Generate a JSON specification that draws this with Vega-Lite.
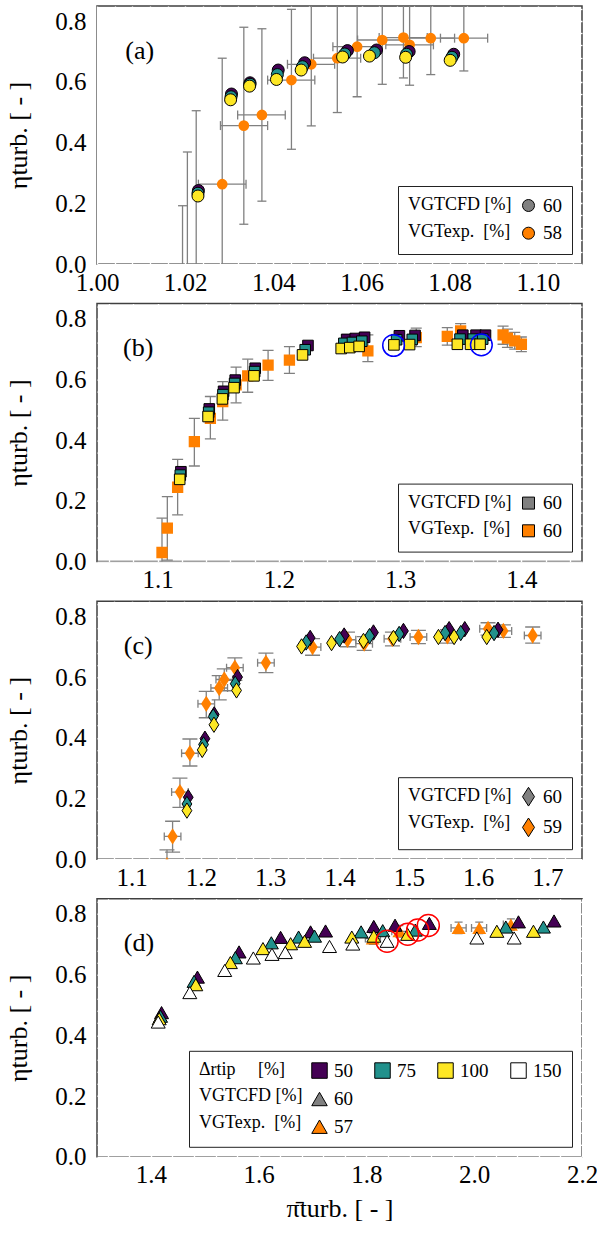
{
"$schema": "https://vega.github.io/schema/vega-lite/v6.json",
"background": "white",
"padding": {"left": 5, "right": 5, "top": 4, "bottom": 5},
"spacing": 39.6,
"bounds": "flush",
"resolve": {"scale": {"shape": "independent", "color": "independent", "fill": "independent", "stroke": "independent"}, "legend": {"shape": "independent", "color": "independent", "fill": "independent", "stroke": "independent"}},
"config": {
  "font": "Liberation Serif",
  "style": {"guide-label": {"font": "Liberation Serif"}, "guide-title": {"font": "Liberation Serif"}},
  "view": {"fill": "#d9d9d9", "stroke": "#404040", "strokeWidth": 1.5},
  "axis": {"labelFont": "Liberation Serif", "labelFontSize": 25, "labelColor": "black", "titleFont": "Liberation Serif", "titleFontSize": 26, "titleFontWeight": "normal", "titleColor": "black", "gridColor": "white", "gridWidth": 1.4, "gridOpacity": 1, "domain": false, "ticks": false, "labelFlush": false, "labelOverlap": false},
  "legend": {"orient": "bottom-right", "offset": 10, "fillColor": "white", "strokeColor": "#222222", "padding": 10, "labelFont": "Liberation Serif", "labelFontSize": 19, "labelColor": "black", "titleFont": "Liberation Serif", "titleFontSize": 18, "titleFontWeight": "normal", "titleColor": "black", "titleOrient": "left", "titleAnchor": "start", "titleLineHeight": 26.7, "titleBaseline": "top", "titlePadding": 7, "symbolSize": 144, "symbolOpacity": 1, "rowPadding": 7.7, "labelOffset": 5, "columnPadding": 19, "symbolStrokeColor": "black", "symbolStrokeWidth": 1}
},
"datasets": {
  "a_cfd": [
    {"x":1.0230,"y":0.242,"clr":"50"},{"x":1.0305,"y":0.560,"clr":"50"},{"x":1.0347,"y":0.597,"clr":"50"},{"x":1.0411,"y":0.639,"clr":"50"},{"x":1.0471,"y":0.663,"clr":"50"},{"x":1.0568,"y":0.703,"clr":"50"},{"x":1.0634,"y":0.705,"clr":"50"},{"x":1.0708,"y":0.700,"clr":"50"},{"x":1.0809,"y":0.691,"clr":"50"},
    {"x":1.0229,"y":0.233,"clr":"75"},{"x":1.0304,"y":0.551,"clr":"75"},{"x":1.0347,"y":0.592,"clr":"75"},{"x":1.0409,"y":0.624,"clr":"75"},{"x":1.0466,"y":0.650,"clr":"75"},{"x":1.0562,"y":0.692,"clr":"75"},{"x":1.0629,"y":0.696,"clr":"75"},{"x":1.0702,"y":0.691,"clr":"75"},{"x":1.0805,"y":0.681,"clr":"75"},
    {"x":1.0229,"y":0.224,"clr":"100"},{"x":1.0303,"y":0.541,"clr":"100"},{"x":1.0346,"y":0.586,"clr":"100"},{"x":1.0407,"y":0.608,"clr":"100"},{"x":1.0463,"y":0.639,"clr":"100"},{"x":1.0557,"y":0.682,"clr":"100"},{"x":1.0618,"y":0.685,"clr":"100"},{"x":1.0700,"y":0.681,"clr":"100"},{"x":1.0801,"y":0.671,"clr":"100"}
  ],
  "a_exp": [
    {"x":1.0194,"y":-0.30,"ylo":-0.79,"yhi":0.192},
    {"x":1.0205,"y":-0.15,"ylo":-0.67,"yhi":0.369},
    {"x":1.0225,"y":-0.04,"ylo":-0.58,"yhi":0.505},
    {"x":1.0284,"y":0.263,"xlo":1.0230,"xhi":1.0338,"ylo":-0.152,"yhi":0.678},
    {"x":1.0333,"y":0.456,"xlo":1.0280,"xhi":1.0387,"ylo":0.131,"yhi":0.780},
    {"x":1.0374,"y":0.491,"xlo":1.0319,"xhi":1.0427,"ylo":0.207,"yhi":0.775},
    {"x":1.0441,"y":0.606,"xlo":1.0387,"xhi":1.0494,"ylo":0.378,"yhi":0.839},
    {"x":1.0486,"y":0.658,"xlo":1.0432,"xhi":1.0539,"ylo":0.455,"yhi":0.861},
    {"x":1.0545,"y":0.678,"xlo":1.0491,"xhi":1.0598,"ylo":0.499,"yhi":0.857},
    {"x":1.0590,"y":0.716,"xlo":1.0535,"xhi":1.0643,"ylo":0.551,"yhi":0.881},
    {"x":1.0647,"y":0.738,"xlo":1.0591,"xhi":1.0700,"ylo":0.592,"yhi":0.884},
    {"x":1.0695,"y":0.746,"xlo":1.0640,"xhi":1.0749,"ylo":0.613,"yhi":0.879},
    {"x":1.0709,"y":0.722,"xlo":1.0655,"xhi":1.0763,"ylo":0.589,"yhi":0.855},
    {"x":1.0757,"y":0.744,"xlo":1.0702,"xhi":1.0811,"ylo":0.624,"yhi":0.864},
    {"x":1.0832,"y":0.744,"xlo":1.0779,"xhi":1.0886,"ylo":0.636,"yhi":0.860}
  ],
  "b_cfd": [
    {"x":1.1192,"y":0.296,"clr":"50"},{"x":1.1426,"y":0.503,"clr":"50"},{"x":1.1544,"y":0.561,"clr":"50"},{"x":1.1640,"y":0.598,"clr":"50"},{"x":1.1805,"y":0.637,"clr":"50"},{"x":1.2240,"y":0.712,"clr":"50"},{"x":1.2559,"y":0.732,"clr":"50"},{"x":1.2630,"y":0.735,"clr":"50"},{"x":1.2707,"y":0.739,"clr":"50"},{"x":1.2994,"y":0.744,"clr":"50"},{"x":1.3123,"y":0.745,"clr":"50"},{"x":1.3517,"y":0.746,"clr":"50"},{"x":1.3626,"y":0.746,"clr":"50"},{"x":1.3704,"y":0.746,"clr":"50"},
    {"x":1.1187,"y":0.285,"clr":"75"},{"x":1.1421,"y":0.492,"clr":"75"},{"x":1.1539,"y":0.550,"clr":"75"},{"x":1.1635,"y":0.587,"clr":"75"},{"x":1.1800,"y":0.626,"clr":"75"},{"x":1.2217,"y":0.698,"clr":"75"},{"x":1.2536,"y":0.719,"clr":"75"},{"x":1.2607,"y":0.722,"clr":"75"},{"x":1.2684,"y":0.726,"clr":"75"},{"x":1.2971,"y":0.731,"clr":"75"},{"x":1.3100,"y":0.732,"clr":"75"},{"x":1.3494,"y":0.733,"clr":"75"},{"x":1.3603,"y":0.733,"clr":"75"},{"x":1.3681,"y":0.733,"clr":"75"},
    {"x":1.1182,"y":0.271,"clr":"100"},{"x":1.1416,"y":0.478,"clr":"100"},{"x":1.1534,"y":0.536,"clr":"100"},{"x":1.1630,"y":0.573,"clr":"100"},{"x":1.1795,"y":0.612,"clr":"100"},{"x":1.2195,"y":0.681,"clr":"100"},{"x":1.2514,"y":0.702,"clr":"100"},{"x":1.2585,"y":0.705,"clr":"100"},{"x":1.2662,"y":0.709,"clr":"100"},{"x":1.2949,"y":0.714,"clr":"100"},{"x":1.3078,"y":0.715,"clr":"100"},{"x":1.3472,"y":0.716,"clr":"100"},{"x":1.3581,"y":0.716,"clr":"100"},{"x":1.3659,"y":0.716,"clr":"100"}
  ],
  "b_exp": [
    {"x":1.1036,"y":0.030,"ylo":-0.08,"yhi":0.143},
    {"x":1.1080,"y":0.110,"ylo":0.005,"yhi":0.214},
    {"x":1.1165,"y":0.245,"ylo":0.154,"yhi":0.337},
    {"x":1.1303,"y":0.395,"ylo":0.315,"yhi":0.472},
    {"x":1.1435,"y":0.472,"ylo":0.404,"yhi":0.544},
    {"x":1.1537,"y":0.527,"ylo":0.466,"yhi":0.593},
    {"x":1.1647,"y":0.582,"ylo":0.523,"yhi":0.641},
    {"x":1.1743,"y":0.612,"ylo":0.558,"yhi":0.667},
    {"x":1.1911,"y":0.647,"ylo":0.597,"yhi":0.696},
    {"x":1.2087,"y":0.664,"ylo":0.620,"yhi":0.708},
    {"x":1.2734,"y":0.694,"ylo":0.659,"yhi":0.747},
    {"x":1.3133,"y":0.738,"ylo":0.708,"yhi":0.769},
    {"x":1.3389,"y":0.742,"ylo":0.713,"yhi":0.771},
    {"x":1.3499,"y":0.760,"ylo":0.735,"yhi":0.784},
    {"x":1.3849,"y":0.747,"ylo":0.716,"yhi":0.776},
    {"x":1.3885,"y":0.736,"ylo":0.706,"yhi":0.766},
    {"x":1.3945,"y":0.727,"ylo":0.700,"yhi":0.755},
    {"x":1.4000,"y":0.716,"ylo":0.692,"yhi":0.740}
  ],
  "b_hl": [{"x":1.2946,"y":0.712},{"x":1.3670,"y":0.714}],
  "c_cfd": [
    {"x":1.1817,"y":0.204,"clr":"50"},{"x":1.2058,"y":0.397,"clr":"50"},{"x":1.2192,"y":0.477,"clr":"50"},{"x":1.2529,"y":0.600,"clr":"50"},{"x":1.3577,"y":0.729,"clr":"50"},{"x":1.4067,"y":0.737,"clr":"50"},{"x":1.4490,"y":0.747,"clr":"50"},{"x":1.4923,"y":0.752,"clr":"50"},{"x":1.5582,"y":0.758,"clr":"50"},{"x":1.5808,"y":0.758,"clr":"50"},{"x":1.6288,"y":0.756,"clr":"50"},
    {"x":1.1798,"y":0.182,"clr":"75"},{"x":1.2038,"y":0.378,"clr":"75"},{"x":1.2178,"y":0.470,"clr":"75"},{"x":1.2495,"y":0.578,"clr":"75"},{"x":1.3519,"y":0.714,"clr":"75"},{"x":1.4000,"y":0.725,"clr":"75"},{"x":1.4433,"y":0.735,"clr":"75"},{"x":1.4861,"y":0.742,"clr":"75"},{"x":1.5524,"y":0.745,"clr":"75"},{"x":1.5750,"y":0.745,"clr":"75"},{"x":1.6231,"y":0.745,"clr":"75"},
    {"x":1.1798,"y":0.160,"clr":"100"},{"x":1.2019,"y":0.360,"clr":"100"},{"x":1.2188,"y":0.443,"clr":"100"},{"x":1.2514,"y":0.556,"clr":"100"},{"x":1.3452,"y":0.701,"clr":"100"},{"x":1.3885,"y":0.712,"clr":"100"},{"x":1.4346,"y":0.719,"clr":"100"},{"x":1.4779,"y":0.729,"clr":"100"},{"x":1.5428,"y":0.732,"clr":"100"},{"x":1.5654,"y":0.732,"clr":"100"},{"x":1.6125,"y":0.732,"clr":"100"}
  ],
  "c_exp": [
    {"x":1.151,"y":-0.02,"xlo":1.139,"xhi":1.163,"ylo":-0.07,"yhi":0.031},
    {"x":1.1591,"y":0.075,"xlo":1.1471,"xhi":1.1711,"ylo":0.023,"yhi":0.125},
    {"x":1.1697,"y":0.221,"xlo":1.1577,"xhi":1.1817,"ylo":0.171,"yhi":0.267},
    {"x":1.1841,"y":0.349,"xlo":1.1721,"xhi":1.1961,"ylo":0.307,"yhi":0.396},
    {"x":1.2077,"y":0.512,"xlo":1.1957,"xhi":1.2197,"ylo":0.466,"yhi":0.553},
    {"x":1.2264,"y":0.564,"xlo":1.2144,"xhi":1.2384,"ylo":0.525,"yhi":0.605},
    {"x":1.2337,"y":0.592,"xlo":1.2217,"xhi":1.2457,"ylo":0.555,"yhi":0.627},
    {"x":1.2490,"y":0.631,"xlo":1.2370,"xhi":1.2610,"ylo":0.589,"yhi":0.663},
    {"x":1.2938,"y":0.647,"xlo":1.2818,"xhi":1.3058,"ylo":0.615,"yhi":0.679},
    {"x":1.3611,"y":0.699,"xlo":1.3491,"xhi":1.3731,"ylo":0.672,"yhi":0.727},
    {"x":1.4115,"y":0.723,"xlo":1.3995,"xhi":1.4235,"ylo":0.700,"yhi":0.748},
    {"x":1.4356,"y":0.710,"xlo":1.4236,"xhi":1.4476,"ylo":0.688,"yhi":0.733},
    {"x":1.4764,"y":0.726,"xlo":1.4644,"xhi":1.4884,"ylo":0.703,"yhi":0.748},
    {"x":1.5139,"y":0.732,"xlo":1.5019,"xhi":1.5259,"ylo":0.710,"yhi":0.754},
    {"x":1.5558,"y":0.734,"xlo":1.5438,"xhi":1.5678,"ylo":0.712,"yhi":0.756},
    {"x":1.6144,"y":0.759,"xlo":1.6024,"xhi":1.6264,"ylo":0.738,"yhi":0.779},
    {"x":1.6365,"y":0.752,"xlo":1.6245,"xhi":1.6485,"ylo":0.731,"yhi":0.772},
    {"x":1.6788,"y":0.737,"xlo":1.6668,"xhi":1.6908,"ylo":0.712,"yhi":0.765}
  ],
  "d_cfd": [
    {"x":1.4198,"y":0.475,"clr":"50"},{"x":1.4864,"y":0.592,"clr":"50"},{"x":1.5636,"y":0.675,"clr":"50"},{"x":1.6407,"y":0.723,"clr":"50"},{"x":1.6963,"y":0.741,"clr":"50"},{"x":1.7241,"y":0.744,"clr":"50"},{"x":1.8136,"y":0.759,"clr":"50"},{"x":1.8531,"y":0.763,"clr":"50"},{"x":1.9167,"y":0.769,"clr":"50"},{"x":2.0821,"y":0.774,"clr":"50"},{"x":2.1481,"y":0.777,"clr":"50"},
    {"x":1.4179,"y":0.463,"clr":"75"},{"x":1.4802,"y":0.578,"clr":"75"},{"x":1.5568,"y":0.656,"clr":"75"},{"x":1.6235,"y":0.705,"clr":"75"},{"x":1.6741,"y":0.724,"clr":"75"},{"x":1.7037,"y":0.727,"clr":"75"},{"x":1.7901,"y":0.741,"clr":"75"},{"x":1.8302,"y":0.745,"clr":"75"},{"x":1.8907,"y":0.747,"clr":"75"},{"x":2.0586,"y":0.757,"clr":"75"},{"x":2.1284,"y":0.757,"clr":"75"},
    {"x":1.4154,"y":0.455,"clr":"100"},{"x":1.4833,"y":0.567,"clr":"100"},{"x":1.5475,"y":0.640,"clr":"100"},{"x":1.6080,"y":0.686,"clr":"100"},{"x":1.6593,"y":0.702,"clr":"100"},{"x":1.6852,"y":0.710,"clr":"100"},{"x":1.7728,"y":0.724,"clr":"100"},{"x":1.8136,"y":0.727,"clr":"100"},{"x":1.8765,"y":0.733,"clr":"100"},{"x":2.0420,"y":0.743,"clr":"100"},{"x":2.1099,"y":0.743,"clr":"100"},
    {"x":1.4136,"y":0.444,"clr":"150"},{"x":1.4722,"y":0.541,"clr":"150"},{"x":1.5370,"y":0.614,"clr":"150"},{"x":1.5901,"y":0.655,"clr":"150"},{"x":1.6247,"y":0.667,"clr":"150"},{"x":1.6494,"y":0.673,"clr":"150"},{"x":1.7315,"y":0.693,"clr":"150"},{"x":1.7747,"y":0.701,"clr":"150"},{"x":1.8383,"y":0.710,"clr":"150"},{"x":2.0049,"y":0.721,"clr":"150"},{"x":2.0741,"y":0.721,"clr":"150"}
  ],
  "d_exp": [
    {"x":1.8117,"y":0.719,"xlo":1.798,"xhi":1.826,"ylo":0.700,"yhi":0.738},
    {"x":1.8611,"y":0.743,"xlo":1.847,"xhi":1.875,"ylo":0.724,"yhi":0.762},
    {"x":1.9710,"y":0.754,"xlo":1.957,"xhi":1.985,"ylo":0.735,"yhi":0.773},
    {"x":2.0093,"y":0.754,"xlo":1.995,"xhi":2.023,"ylo":0.735,"yhi":0.773},
    {"x":2.0680,"y":0.765,"xlo":2.054,"xhi":2.082,"ylo":0.746,"yhi":0.784}
  ],
  "d_hl": [{"x":1.8383,"y":0.710},{"x":1.8765,"y":0.733},{"x":1.8951,"y":0.747},{"x":1.9148,"y":0.762}]
},
"vconcat": [
{
  "width": 485, "height": 258,
  "resolve": {"axis": {"x": "independent", "y": "independent"}},
  "layer": [
    {"data": {"name": "a_exp"}, "mark": {"type": "rule", "color": "#808080", "strokeWidth": 1.3, "clip": true},
     "encoding": {
       "x": {"field": "x", "type": "quantitative", "axis": {"orient": "top", "values": [1.004,1.008,1.012,1.016,1.024,1.028,1.032,1.036,1.044,1.048,1.052,1.056,1.064,1.068,1.072,1.076,1.084,1.088,1.092,1.096,1.104,1.108], "labels": false, "grid": false, "ticks": true, "tickSize": -6, "tickColor": "white", "tickWidth": 1.3, "title": null}},
       "y": {"field": "ylo", "type": "quantitative", "axis": {"orient": "right", "values": [0.04,0.08,0.12,0.16,0.24,0.28,0.32,0.36,0.44,0.48,0.52,0.56,0.64,0.68,0.72,0.76,0.84], "labels": false, "grid": false, "ticks": true, "tickSize": -6, "tickColor": "white", "tickWidth": 1.3, "title": null}},
       "y2": {"field": "yhi"}}},
    {"data": {"name": "a_exp"}, "mark": {"type": "rule", "color": "#808080", "strokeWidth": 1.3, "clip": true},
     "encoding": {"x": {"field": "xlo", "type": "quantitative", "axis": null}, "x2": {"field": "xhi"}, "y": {"field": "y", "type": "quantitative", "axis": null}}},
    {"data": {"name": "a_exp"}, "transform": [{"fold": ["ylo", "yhi"], "as": ["k", "yc"]}],
     "mark": {"type": "tick", "orient": "horizontal", "size": 9, "thickness": 1.3, "color": "#808080", "opacity": 1, "clip": true},
     "encoding": {"x": {"field": "x", "type": "quantitative", "axis": null}, "y": {"field": "yc", "type": "quantitative", "axis": null}}},
    {"data": {"name": "a_exp"}, "transform": [{"fold": ["xlo", "xhi"], "as": ["k", "xc"]}],
     "mark": {"type": "tick", "orient": "vertical", "size": 9, "thickness": 1.3, "color": "#808080", "opacity": 1, "clip": true},
     "encoding": {"x": {"field": "xc", "type": "quantitative", "axis": null}, "y": {"field": "y", "type": "quantitative", "axis": null}}},
    {"data": {"name": "a_exp"}, "mark": {"type": "point", "shape": "circle", "filled": true, "opacity": 1, "size": 115, "color": "#ff8000", "clip": true},
     "encoding": {
       "x": {"field": "x", "type": "quantitative", "axis": {"orient": "bottom", "values": [1.004,1.008,1.012,1.016,1.024,1.028,1.032,1.036,1.044,1.048,1.052,1.056,1.064,1.068,1.072,1.076,1.084,1.088,1.092,1.096,1.104,1.108], "labels": false, "grid": false, "ticks": true, "tickSize": -6, "tickColor": "white", "tickWidth": 1.3, "title": null}},
       "y": {"field": "y", "type": "quantitative", "axis": {"orient": "left", "values": [0.04,0.08,0.12,0.16,0.24,0.28,0.32,0.36,0.44,0.48,0.52,0.56,0.64,0.68,0.72,0.76,0.84], "labels": false, "grid": false, "ticks": true, "tickSize": -6, "tickColor": "white", "tickWidth": 1.3, "title": null}}}},
    {"data": {"name": "a_cfd"}, "mark": {"type": "point", "shape": "circle", "filled": true, "opacity": 1, "size": 144, "stroke": "black", "strokeWidth": 1, "clip": true},
     "encoding": {
       "x": {"field": "x", "type": "quantitative", "scale": {"domain": [1.0, 1.11], "nice": false, "zero": false}, "axis": {"orient": "bottom", "values": [1.0,1.02,1.04,1.06,1.08,1.1], "format": ".2f", "title": null, "grid": true, "labelPadding": 6}},
       "y": {"field": "y", "type": "quantitative", "scale": {"domain": [0, 0.85], "nice": false, "zero": false}, "axis": {"orient": "left", "values": [0,0.2,0.4,0.6,0.8], "format": ".1f", "title": "ηturb. [ - ]", "grid": true, "labelPadding": 11, "titlePadding": 23}},
       "color": {"field": "clr", "type": "nominal", "scale": {"domain": ["50","75","100","150"], "range": ["#440154","#21918c","#fde725","#ffffff"]}, "legend": null}}},
    {"data": {"values": [{}]}, "mark": {"type": "point", "shape": "circle", "filled": true, "opacity": 0},
     "encoding": {
       "fill": {"datum": "60", "type": "nominal", "scale": {"domain": ["60","58"], "range": ["#808080","#ff8000"]},
         "legend": {"title": ["VGTCFD [%]", "VGTexp.\u00a0 [%]"], "symbolSize": 144, "symbolOpacity": 1}},
       "stroke": {"datum": "60", "type": "nominal", "scale": {"domain": ["60","58"], "range": ["black","black"]}}}},
    {"data": {"values": [{"label": "(a)"}]}, "mark": {"type": "text", "fontSize": 26, "font": "Liberation Serif", "align": "center", "baseline": "middle"},
     "encoding": {"x": {"datum": 1.0097, "type": "quantitative", "axis": null}, "y": {"datum": 0.702, "type": "quantitative", "axis": null}, "text": {"field": "label"}}}
  ]
},
{
  "width": 485, "height": 258,
  "resolve": {"axis": {"x": "independent", "y": "independent"}},
  "layer": [
    {"data": {"name": "b_exp"}, "mark": {"type": "rule", "color": "#808080", "strokeWidth": 1.3, "clip": true},
     "encoding": {
       "x": {"field": "x", "type": "quantitative", "axis": {"orient": "top", "values": [1.06,1.08,1.12,1.14,1.16,1.18,1.22,1.24,1.26,1.28,1.32,1.34,1.36,1.38,1.42,1.44], "labels": false, "grid": false, "ticks": true, "tickSize": -6, "tickColor": "white", "tickWidth": 1.3, "title": null}},
       "y": {"field": "ylo", "type": "quantitative", "axis": {"orient": "right", "values": [0.04,0.08,0.12,0.16,0.24,0.28,0.32,0.36,0.44,0.48,0.52,0.56,0.64,0.68,0.72,0.76,0.84], "labels": false, "grid": false, "ticks": true, "tickSize": -6, "tickColor": "white", "tickWidth": 1.3, "title": null}},
       "y2": {"field": "yhi"}}},
    {"data": {"name": "b_exp"}, "transform": [{"fold": ["ylo", "yhi"], "as": ["k", "yc"]}],
     "mark": {"type": "tick", "orient": "horizontal", "size": 11, "thickness": 1.3, "color": "#808080", "opacity": 1, "clip": true},
     "encoding": {"x": {"field": "x", "type": "quantitative", "axis": null}, "y": {"field": "yc", "type": "quantitative", "axis": null}}},
    {"data": {"name": "b_exp"}, "mark": {"type": "point", "shape": "square", "filled": true, "opacity": 1, "size": 128, "color": "#ff8000", "clip": true},
     "encoding": {
       "x": {"field": "x", "type": "quantitative", "axis": {"orient": "bottom", "values": [1.06,1.08,1.12,1.14,1.16,1.18,1.22,1.24,1.26,1.28,1.32,1.34,1.36,1.38,1.42,1.44], "labels": false, "grid": false, "ticks": true, "tickSize": -6, "tickColor": "white", "tickWidth": 1.3, "title": null}},
       "y": {"field": "y", "type": "quantitative", "axis": {"orient": "left", "values": [0.04,0.08,0.12,0.16,0.24,0.28,0.32,0.36,0.44,0.48,0.52,0.56,0.64,0.68,0.72,0.76,0.84], "labels": false, "grid": false, "ticks": true, "tickSize": -6, "tickColor": "white", "tickWidth": 1.3, "title": null}}}},
    {"data": {"name": "b_cfd"}, "mark": {"type": "point", "shape": "square", "filled": true, "opacity": 1, "size": 112, "stroke": "black", "strokeWidth": 1, "clip": true},
     "encoding": {
       "x": {"field": "x", "type": "quantitative", "scale": {"domain": [1.05, 1.45], "nice": false, "zero": false}, "axis": {"orient": "bottom", "values": [1.1,1.2,1.3,1.4], "format": ".1f", "title": null, "grid": true, "labelPadding": 6}},
       "y": {"field": "y", "type": "quantitative", "scale": {"domain": [0, 0.85], "nice": false, "zero": false}, "axis": {"orient": "left", "values": [0,0.2,0.4,0.6,0.8], "format": ".1f", "title": "ηturb. [ - ]", "grid": true, "labelPadding": 11, "titlePadding": 23}},
       "color": {"field": "clr", "type": "nominal", "scale": {"domain": ["50","75","100","150"], "range": ["#440154","#21918c","#fde725","#ffffff"]}, "legend": null}}},
    {"data": {"values": [{}]}, "mark": {"type": "point", "shape": "square", "filled": true, "opacity": 0},
     "encoding": {
       "fill": {"datum": "60", "type": "nominal", "scale": {"domain": ["60","60 "], "range": ["#808080","#ff8000"]},
         "legend": {"title": ["VGTCFD [%]", "VGTexp.\u00a0 [%]"], "symbolSize": 144, "symbolOpacity": 1}},
       "stroke": {"datum": "60", "type": "nominal", "scale": {"domain": ["60","60 "], "range": ["black","black"]}}}},
    {"data": {"name": "b_hl"}, "mark": {"type": "point", "shape": "circle", "filled": false, "size": 470, "stroke": "#0000ff", "strokeWidth": 1.5, "opacity": 1, "clip": true},
     "encoding": {"x": {"field": "x", "type": "quantitative", "axis": null}, "y": {"field": "y", "type": "quantitative", "axis": null}}},
    {"data": {"values": [{"label": "(b)"}]}, "mark": {"type": "text", "fontSize": 26, "font": "Liberation Serif", "align": "center", "baseline": "middle"},
     "encoding": {"x": {"datum": 1.084, "type": "quantitative", "axis": null}, "y": {"datum": 0.703, "type": "quantitative", "axis": null}, "text": {"field": "label"}}}
  ]
},
{
  "width": 485, "height": 258,
  "resolve": {"axis": {"x": "independent", "y": "independent"}},
  "layer": [
    {"data": {"name": "c_exp"}, "mark": {"type": "rule", "color": "#808080", "strokeWidth": 1.3, "clip": true},
     "encoding": {
       "x": {"field": "x", "type": "quantitative", "axis": {"orient": "top", "values": [1.075,1.125,1.15,1.175,1.225,1.25,1.275,1.325,1.35,1.375,1.425,1.45,1.475,1.525,1.55,1.575,1.625,1.65,1.675,1.725], "labels": false, "grid": false, "ticks": true, "tickSize": -6, "tickColor": "white", "tickWidth": 1.3, "title": null}},
       "y": {"field": "ylo", "type": "quantitative", "axis": {"orient": "right", "values": [0.04,0.08,0.12,0.16,0.24,0.28,0.32,0.36,0.44,0.48,0.52,0.56,0.64,0.68,0.72,0.76,0.84], "labels": false, "grid": false, "ticks": true, "tickSize": -6, "tickColor": "white", "tickWidth": 1.3, "title": null}},
       "y2": {"field": "yhi"}}},
    {"data": {"name": "c_exp"}, "mark": {"type": "rule", "color": "#808080", "strokeWidth": 1.3, "clip": true},
     "encoding": {"x": {"field": "xlo", "type": "quantitative", "axis": null}, "x2": {"field": "xhi"}, "y": {"field": "y", "type": "quantitative", "axis": null}}},
    {"data": {"name": "c_exp"}, "transform": [{"fold": ["ylo", "yhi"], "as": ["k", "yc"]}],
     "mark": {"type": "tick", "orient": "horizontal", "size": 15, "thickness": 1.3, "color": "#808080", "opacity": 1, "clip": true},
     "encoding": {"x": {"field": "x", "type": "quantitative", "axis": null}, "y": {"field": "yc", "type": "quantitative", "axis": null}}},
    {"data": {"name": "c_exp"}, "transform": [{"fold": ["xlo", "xhi"], "as": ["k", "xc"]}],
     "mark": {"type": "tick", "orient": "vertical", "size": 8, "thickness": 1.3, "color": "#808080", "opacity": 1, "clip": true},
     "encoding": {"x": {"field": "xc", "type": "quantitative", "axis": null}, "y": {"field": "y", "type": "quantitative", "axis": null}}},
    {"data": {"name": "c_exp"}, "mark": {"type": "point", "shape": "M0,-1.25L0.8,0L0,1.25L-0.8,0Z", "filled": true, "opacity": 1, "size": 170, "color": "#ff8000", "clip": true},
     "encoding": {
       "x": {"field": "x", "type": "quantitative", "axis": {"orient": "bottom", "values": [1.075,1.125,1.15,1.175,1.225,1.25,1.275,1.325,1.35,1.375,1.425,1.45,1.475,1.525,1.55,1.575,1.625,1.65,1.675,1.725], "labels": false, "grid": false, "ticks": true, "tickSize": -6, "tickColor": "white", "tickWidth": 1.3, "title": null}},
       "y": {"field": "y", "type": "quantitative", "axis": {"orient": "left", "values": [0.04,0.08,0.12,0.16,0.24,0.28,0.32,0.36,0.44,0.48,0.52,0.56,0.64,0.68,0.72,0.76,0.84], "labels": false, "grid": false, "ticks": true, "tickSize": -6, "tickColor": "white", "tickWidth": 1.3, "title": null}}}},
    {"data": {"name": "c_cfd"}, "mark": {"type": "point", "shape": "M0,-1.25L0.8,0L0,1.25L-0.8,0Z", "filled": true, "opacity": 1, "size": 150, "stroke": "black", "strokeWidth": 1, "clip": true},
     "encoding": {
       "x": {"field": "x", "type": "quantitative", "scale": {"domain": [1.05, 1.75], "nice": false, "zero": false}, "axis": {"orient": "bottom", "values": [1.1,1.2,1.3,1.4,1.5,1.6,1.7], "format": ".1f", "title": null, "grid": true, "labelPadding": 6}},
       "y": {"field": "y", "type": "quantitative", "scale": {"domain": [0, 0.85], "nice": false, "zero": false}, "axis": {"orient": "left", "values": [0,0.2,0.4,0.6,0.8], "format": ".1f", "title": "ηturb. [ - ]", "grid": true, "labelPadding": 11, "titlePadding": 23}},
       "color": {"field": "clr", "type": "nominal", "scale": {"domain": ["50","75","100","150"], "range": ["#440154","#21918c","#fde725","#ffffff"]}, "legend": null}}},
    {"data": {"values": [{}]}, "mark": {"type": "point", "shape": "M0,-1.25L0.8,0L0,1.25L-0.8,0Z", "filled": true, "opacity": 0},
     "encoding": {
       "fill": {"datum": "60", "type": "nominal", "scale": {"domain": ["60","59"], "range": ["#808080","#ff8000"]},
         "legend": {"title": ["VGTCFD [%]", "VGTexp.\u00a0 [%]"], "symbolSize": 225, "symbolOpacity": 1}},
       "stroke": {"datum": "60", "type": "nominal", "scale": {"domain": ["60","59"], "range": ["black","black"]}}}},
    {"data": {"values": [{"label": "(c)"}]}, "mark": {"type": "text", "fontSize": 26, "font": "Liberation Serif", "align": "center", "baseline": "middle"},
     "encoding": {"x": {"datum": 1.1095, "type": "quantitative", "axis": null}, "y": {"datum": 0.704, "type": "quantitative", "axis": null}, "text": {"field": "label"}}}
  ]
},
{
  "width": 485, "height": 258,
  "resolve": {"axis": {"x": "independent", "y": "independent"}},
  "layer": [
    {"data": {"name": "d_exp"}, "mark": {"type": "rule", "color": "#808080", "strokeWidth": 1.3, "clip": true},
     "encoding": {
       "x": {"field": "x", "type": "quantitative", "axis": {"orient": "top", "values": [1.32,1.36,1.44,1.48,1.52,1.56,1.64,1.68,1.72,1.76,1.84,1.88,1.92,1.96,2.04,2.08,2.12,2.16], "labels": false, "grid": false, "ticks": true, "tickSize": -6, "tickColor": "white", "tickWidth": 1.3, "title": null}},
       "y": {"field": "ylo", "type": "quantitative", "axis": {"orient": "right", "values": [0.04,0.08,0.12,0.16,0.24,0.28,0.32,0.36,0.44,0.48,0.52,0.56,0.64,0.68,0.72,0.76,0.84], "labels": false, "grid": false, "ticks": true, "tickSize": -6, "tickColor": "white", "tickWidth": 1.3, "title": null}},
       "y2": {"field": "yhi"}}},
    {"data": {"name": "d_exp"}, "mark": {"type": "rule", "color": "#808080", "strokeWidth": 1.3, "clip": true},
     "encoding": {"x": {"field": "xlo", "type": "quantitative", "axis": null}, "x2": {"field": "xhi"}, "y": {"field": "y", "type": "quantitative", "axis": null}}},
    {"data": {"name": "d_exp"}, "transform": [{"fold": ["ylo", "yhi"], "as": ["k", "yc"]}],
     "mark": {"type": "tick", "orient": "horizontal", "size": 8, "thickness": 1.3, "color": "#808080", "opacity": 1, "clip": true},
     "encoding": {"x": {"field": "x", "type": "quantitative", "axis": null}, "y": {"field": "yc", "type": "quantitative", "axis": null}}},
    {"data": {"name": "d_exp"}, "transform": [{"fold": ["xlo", "xhi"], "as": ["k", "xc"]}],
     "mark": {"type": "tick", "orient": "vertical", "size": 8, "thickness": 1.3, "color": "#808080", "opacity": 1, "clip": true},
     "encoding": {"x": {"field": "xc", "type": "quantitative", "axis": null}, "y": {"field": "y", "type": "quantitative", "axis": null}}},
    {"data": {"name": "d_exp"}, "mark": {"type": "point", "filled": true, "opacity": 1, "size": 196, "shape": "triangle-up", "color": "#ff8000", "clip": true},
     "encoding": {
       "x": {"field": "x", "type": "quantitative", "axis": {"orient": "bottom", "values": [1.32,1.36,1.44,1.48,1.52,1.56,1.64,1.68,1.72,1.76,1.84,1.88,1.92,1.96,2.04,2.08,2.12,2.16], "labels": false, "grid": false, "ticks": true, "tickSize": -6, "tickColor": "white", "tickWidth": 1.3, "title": null}},
       "y": {"field": "y", "type": "quantitative", "axis": {"orient": "left", "values": [0.04,0.08,0.12,0.16,0.24,0.28,0.32,0.36,0.44,0.48,0.52,0.56,0.64,0.68,0.72,0.76,0.84], "labels": false, "grid": false, "ticks": true, "tickSize": -6, "tickColor": "white", "tickWidth": 1.3, "title": null}}}},
    {"data": {"name": "d_cfd"}, "mark": {"type": "point", "filled": true, "opacity": 1, "size": 196, "shape": "triangle-up", "stroke": "black", "strokeWidth": 1, "clip": true},
     "encoding": {
       "x": {"field": "x", "type": "quantitative", "scale": {"domain": [1.3, 2.2], "nice": false, "zero": false}, "axis": {"orient": "bottom", "values": [1.4,1.6,1.8,2.0,2.2], "format": ".1f", "title": "π̄turb. [ - ]", "grid": true, "labelPadding": 6, "titlePadding": 8}},
       "y": {"field": "y", "type": "quantitative", "scale": {"domain": [0, 0.85], "nice": false, "zero": false}, "axis": {"orient": "left", "values": [0,0.2,0.4,0.6,0.8], "format": ".1f", "title": "ηturb. [ - ]", "grid": true, "labelPadding": 11, "titlePadding": 23}},
       "color": {"field": "clr", "type": "nominal", "scale": {"domain": ["50","75","100","150"], "range": ["#440154","#21918c","#fde725","#ffffff"]}, "legend": null}}},
    {"data": {"values": [{}]}, "mark": {"type": "point", "filled": true, "opacity": 0},
     "encoding": {
       "fill": {"datum": "50", "type": "nominal",
         "scale": {"domain": ["50","75","100","150","60","e1","e2","e3","57"], "range": ["#440154","#21918c","#fde725","#ffffff","#808080","transparent","transparent","transparent","#ff8000"]},
         "legend": {"title": ["\u00a0\u00a0\u00a0\u00a0Δrtip\u00a0\u00a0\u00a0\u00a0 [%]", "VGTCFD [%]", "VGTexp.\u00a0 [%]"], "direction": "horizontal", "columns": 4, "symbolSize": 240, "symbolOpacity": 1,
           "labelExpr": "indexof(['e1','e2','e3'], datum.label) >= 0 ? '' : datum.label"}},
       "stroke": {"datum": "50", "type": "nominal",
         "scale": {"domain": ["50","75","100","150","60","e1","e2","e3","57"], "range": ["black","black","black","black","black","transparent","transparent","transparent","black"]}},
       "shape": {"datum": "50", "type": "nominal",
         "scale": {"domain": ["50","75","100","150","60","e1","e2","e3","57"], "range": ["square","square","square","square","triangle-up","square","square","square","triangle-up"]}}}},
    {"data": {"name": "d_hl"}, "mark": {"type": "point", "shape": "circle", "filled": false, "size": 484, "stroke": "#ff0000", "strokeWidth": 1.5, "opacity": 1, "clip": true},
     "encoding": {"x": {"field": "x", "type": "quantitative", "axis": null}, "y": {"field": "y", "type": "quantitative", "axis": null}}},
    {"data": {"values": [{"label": "(d)"}]}, "mark": {"type": "text", "fontSize": 26, "font": "Liberation Serif", "align": "center", "baseline": "middle"},
     "encoding": {"x": {"datum": 1.3778, "type": "quantitative", "axis": null}, "y": {"datum": 0.703, "type": "quantitative", "axis": null}, "text": {"field": "label"}}}
  ]
}
]
}
